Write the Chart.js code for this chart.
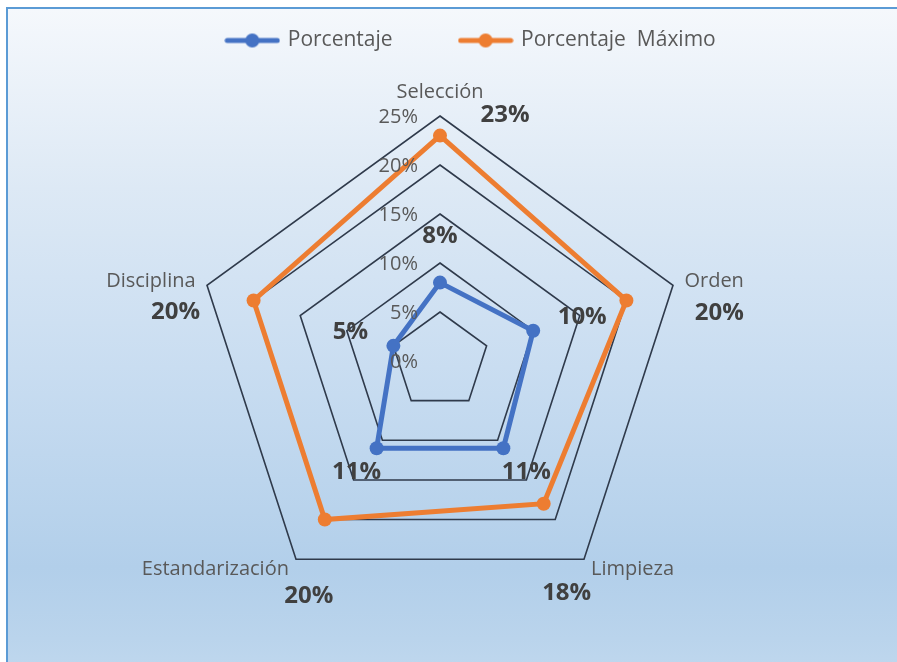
<!DOCTYPE html>
<html>
<head>
<meta charset="utf-8">
<script src="https://cdn.jsdelivr.net/npm/chart.js@4.4.1/dist/chart.umd.min.js"></script>
<style>
    html, body { margin: 0; padding: 0; width: 897px; height: 662px; overflow: hidden; background: #ffffff; }
    #frame {
        position: absolute; left: 6px; top: 7px; width: 960px; height: 720px;
        border: 2px solid #5b9bd5; box-sizing: border-box;
        background: linear-gradient(to bottom, #f5f8fc 0%, #dde9f5 25%, #c9ddf1 50%, #b2cfea 78%, #bad4ec 88%, #c8ddf1 100%);
    }
    #wrap { position: absolute; left: 0; top: 0; width: 897px; height: 662px; }
</style>
</head>
<body>
<div id="frame"></div>
<div id="wrap"><canvas id="radarChart" width="897" height="662"></canvas></div>
<script>
const categories = ['Selección', 'Orden', 'Limpieza', 'Estandarización', 'Disciplina'];
const porcentaje = [8, 10, 11, 11, 5];
const porcentajeMax = [23, 20, 18, 20, 20];
const tickValues = [0, 5, 10, 15, 20, 25];

// desplazamiento de las etiquetas de datos respecto al punto (px)
const offsetsPct = [[0, -46], [49, -14], [23, 24], [-20, 24], [-43, -14]];
const offsetsMax = [[65, -20], [93, 13], [23, 89], [-16, 77], [-78, 12]];

const FONT = '"Open Sans", "Noto Sans", sans-serif';
const BLUE = '#4472c4';
const ORANGE = '#ed7d31';

// icono de leyenda: linea con circulo
function legendIcon(color) {
    const c = document.createElement('canvas');
    c.width = 56;
    c.height = 16;
    const g = c.getContext('2d');
    g.strokeStyle = color;
    g.lineWidth = 5;
    g.lineCap = 'round';
    g.beginPath();
    g.moveTo(3, 8);
    g.lineTo(53, 8);
    g.stroke();
    g.fillStyle = color;
    g.beginPath();
    g.arc(28, 8, 7, 0, Math.PI * 2);
    g.fill();
    return c;
}
const icons = [legendIcon(BLUE), legendIcon(ORANGE)];

// etiquetas de ejes, ticks y valores
const labelsPlugin = {
    id: 'labelsPlugin',
    afterDatasetsDraw(chart) {
        const ctx = chart.ctx;
        const scale = chart.scales.r;
        ctx.save();

        // ticks
        ctx.font = '20px ' + FONT;
        ctx.fillStyle = '#595959';
        ctx.textAlign = 'right';
        ctx.textBaseline = 'middle';
        tickValues.forEach(v => {
            const y = scale.yCenter - scale.getDistanceFromCenterForValue(v);
            ctx.fillText(v + '%', scale.xCenter - 22, y + 1);
        });

        // categorias
        categories.forEach((name, i) => {
            const p = scale.getPointPosition(i, scale.drawingArea + 12);
            if (i === 0) {
                ctx.textAlign = 'center';
                ctx.textBaseline = 'bottom';
                ctx.fillText(name, p.x, p.y - 2);
            } else {
                ctx.textAlign = (i === 1 || i === 2) ? 'left' : 'right';
                ctx.textBaseline = 'middle';
                ctx.fillText(name, p.x, p.y);
            }
        });

        // valores
        ctx.font = 'bold 24px ' + FONT;
        ctx.fillStyle = '#404040';
        ctx.textAlign = 'center';
        ctx.textBaseline = 'middle';
        const offsets = [offsetsPct, offsetsMax];
        chart.data.datasets.forEach((ds, d) => {
            chart.getDatasetMeta(d).data.forEach((pt, i) => {
                const o = offsets[d][i];
                ctx.fillText(ds.data[i] + '%', pt.x + o[0], pt.y + o[1]);
            });
        });
        ctx.restore();
    }
};

const ctx = document.getElementById('radarChart').getContext('2d');
new Chart(ctx, {
    type: 'radar',
    data: {
        labels: categories,
        datasets: [{
            label: 'Porcentaje',
            data: porcentaje,
            borderColor: BLUE,
            backgroundColor: BLUE,
            borderWidth: 5,
            pointRadius: 7,
            pointBackgroundColor: BLUE,
            pointBorderWidth: 0,
            fill: false
        }, {
            label: 'Porcentaje  Máximo',
            data: porcentajeMax,
            borderColor: ORANGE,
            backgroundColor: ORANGE,
            borderWidth: 5,
            pointRadius: 7,
            pointBackgroundColor: ORANGE,
            pointBorderWidth: 0,
            fill: false
        }]
    },
    options: {
        responsive: false,
        animation: false,
        layout: { padding: { top: -38, left: 46 } },
        elements: { line: { tension: 0 } },
        scales: {
            r: {
                min: 0,
                max: 25,
                ticks: { stepSize: 5, display: false },
                pointLabels: { display: false },
                angleLines: { display: false },
                grid: { color: '#2f3a4b', lineWidth: 1.6 },
                afterFit(scale) {
                    scale.xCenter = 440;
                    scale.yCenter = 361;
                    scale.drawingArea = 245;
                }
            }
        },
        plugins: {
            legend: {
                position: 'top',
                labels: {
                    usePointStyle: true,
                    pointStyleWidth: 50,
                    padding: 68,
                    color: '#595959',
                    font: { family: FONT, size: 21 },
                    generateLabels(chart) {
                        return chart.data.datasets.map((ds, i) => ({
                            text: ds.label,
                            fillStyle: ds.borderColor,
                            strokeStyle: ds.borderColor,
                            fontColor: '#595959',
                            lineWidth: 0,
                            pointStyle: icons[i],
                            hidden: false,
                            datasetIndex: i
                        }));
                    }
                }
            },
            tooltip: { enabled: false }
        }
    },
    plugins: [labelsPlugin]
});
</script>
</body>
</html>
